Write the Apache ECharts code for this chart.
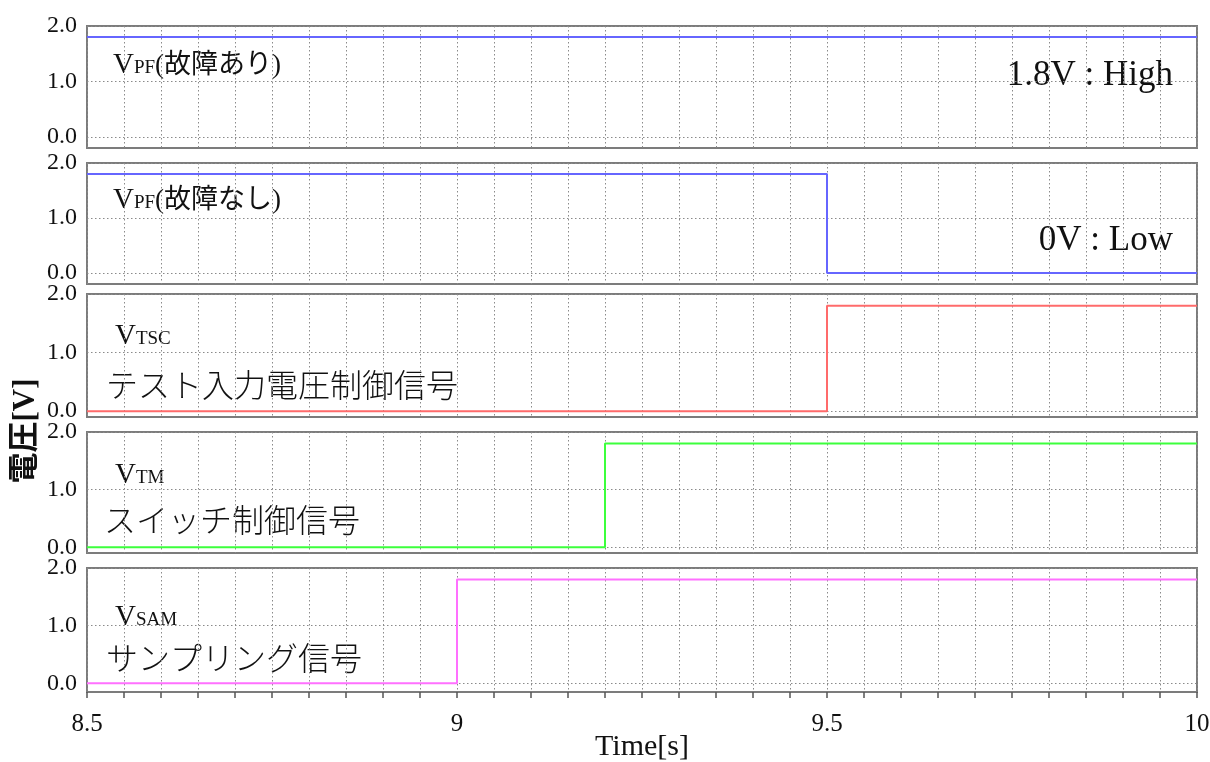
<!DOCTYPE html>
<html>
<head>
<meta charset="utf-8">
<script src="https://cdn.jsdelivr.net/npm/echarts@6/dist/echarts.min.js"></script>
<style>
  html, body { margin: 0; padding: 0; background: #fff; }
  #chart { width: 1210px; height: 762px; }
</style>
</head>
<body>
<div id="chart"></div>
<script>
// Time axis (seconds)
const timeMin = 8.5;
const timeMax = 10;
const timeStep = 0.05;
const timeLabelValues = [8.5, 9, 9.5, 10];

// Voltage tick labels (V)
const voltTicks = [0, 1, 2];

// Signal edges: each value holds until the next time point
const vpfFaultTime = [8.5, 10];
const vpfFaultVolt = [1.8, 1.8];

const vpfNormalTime = [8.5, 9.5, 10];
const vpfNormalVolt = [1.8, 0, 0];

const vtscTime = [8.5, 9.5, 10];
const vtscVolt = [0, 1.8, 1.8];

const vtmTime = [8.5, 9.2, 10];
const vtmVolt = [0, 1.8, 1.8];

const vsamTime = [8.5, 9.0, 10];
const vsamVolt = [0, 1.8, 1.8];

const signals = [
  { t: vpfFaultTime,  v: vpfFaultVolt,  color: '#6666ff' },
  { t: vpfNormalTime, v: vpfNormalVolt, color: '#6666ff' },
  { t: vtscTime,      v: vtscVolt,      color: '#ff6b6b' },
  { t: vtmTime,       v: vtmVolt,       color: '#3cff3c' },
  { t: vsamTime,      v: vsamVolt,      color: '#ff70ff' }
];

// Panel layout: [top, height, lower voltage bound]
const panels = [
  [26, 122, -0.2],
  [163, 121, -0.2],
  [294, 123, -0.1],
  [432, 121, -0.1],
  [568, 124, -0.15]
];

const serif = '"Liberation Serif", "Times New Roman", serif';
const serifJp = '"Liberation Serif", "Noto Sans CJK JP", serif';
const gridLine = { show: true, lineStyle: { color: '#8a8a8a', type: [1.5, 2.5], width: 1 } };

const grid = [], xAxis = [], yAxis = [], series = [];
panels.forEach((p, i) => {
  const last = i === panels.length - 1;
  grid.push({
    left: 87, right: 13, top: p[0], height: p[1],
    outerBoundsMode: 'none', containLabel: false,
    show: true, borderColor: '#7c7c7c', borderWidth: 2, backgroundColor: '#fff'
  });
  xAxis.push({
    type: 'value', gridIndex: i, position: 'bottom', min: timeMin, max: timeMax, interval: timeStep,
    splitLine: gridLine,
    axisLine: { show: last, onZero: false, lineStyle: { color: '#7c7c7c', width: 2 } },
    axisTick: { show: last, inside: false, length: 6, lineStyle: { color: '#555', width: 1.5 } },
    axisLabel: {
      show: last, margin: 20, fontFamily: serif, fontSize: 25, color: '#111',
      formatter: v => timeLabelValues.some(t => Math.abs(t - v) < 1e-6) ? String(+v.toFixed(2)) : ''
    },
    name: last ? 'Time[s]' : '', nameLocation: 'middle', nameGap: 40, nameMoveOverlap: false,
    nameTextStyle: { fontFamily: serif, fontSize: 30, color: '#111' }
  });
  yAxis.push({
    type: 'value', gridIndex: i, min: p[2], max: 2,
    axisLine: { show: false },
    axisTick: { show: false, customValues: voltTicks },
    axisLabel: {
      customValues: voltTicks, margin: 10, fontFamily: serif, fontSize: 24, color: '#111',
      formatter: v => v.toFixed(1)
    },
    splitLine: gridLine
  });
  const s = signals[i];
  series.push({
    type: 'line', xAxisIndex: i, yAxisIndex: i, step: 'end',
    data: s.t.map((t, k) => [t, s.v[k]]),
    showSymbol: false, silent: true,
    lineStyle: { color: s.color, width: 2 }
  });
});

function label(x, y, text, rich, align) {
  return {
    type: 'text', x: x, y: y, silent: true,
    style: {
      text: text, rich: rich, align: align || 'left', verticalAlign: 'middle',
      fill: '#111', fontFamily: serifJp
    }
  };
}

const nameRich = {
  v: { fontFamily: serif, fontSize: 29, color: '#111', verticalAlign: 'bottom' },
  s: { fontFamily: serif, fontSize: 19, color: '#111', verticalAlign: 'bottom', padding: [0, 0, 2, 0] },
  j: { fontFamily: serifJp, fontSize: 27, color: '#111', verticalAlign: 'bottom' }
};
const descRich = {
  d: { fontFamily: '"Noto Sans CJK JP", sans-serif', fontSize: 32, fontWeight: 300, color: '#111' }
};
const noteRich = {
  n: { fontFamily: serif, fontSize: 35, color: '#111' }
};

const graphic = [
  label(113, 65, '{v|V}{s|PF}{j|(故障あり)}', nameRich),
  label(113, 200, '{v|V}{s|PF}{j|(故障なし)}', nameRich),
  label(115, 336, '{v|V}{s|TSC}', nameRich),
  label(106, 385, '{d|テスト入力電圧制御信号}', descRich),
  label(115, 475, '{v|V}{s|TM}', nameRich),
  label(104, 520, '{d|スイッチ制御信号}', descRich),
  label(115, 617, '{v|V}{s|SAM}', nameRich),
  label(106, 658, '{d|サンプリング信号}', descRich),
  label(1173, 76, '{n|1.8V : High}', noteRich, 'right'),
  label(1173, 241, '{n|0V : Low}', noteRich, 'right'),
  {
    type: 'text', x: 26, y: 431, rotation: Math.PI / 2, silent: true,
    style: {
      text: '電圧[V]', align: 'center', verticalAlign: 'middle',
      fontFamily: '"Liberation Serif", "Noto Sans CJK JP", serif', fontSize: 31, fontWeight: 'bold', fill: '#111'
    }
  }
];

const chart = echarts.init(document.getElementById('chart'), null, { renderer: 'canvas' });
chart.setOption({
  animation: false,
  backgroundColor: '#fff',
  grid: grid,
  xAxis: xAxis,
  yAxis: yAxis,
  series: series,
  graphic: graphic
});
</script>
</body>
</html>
